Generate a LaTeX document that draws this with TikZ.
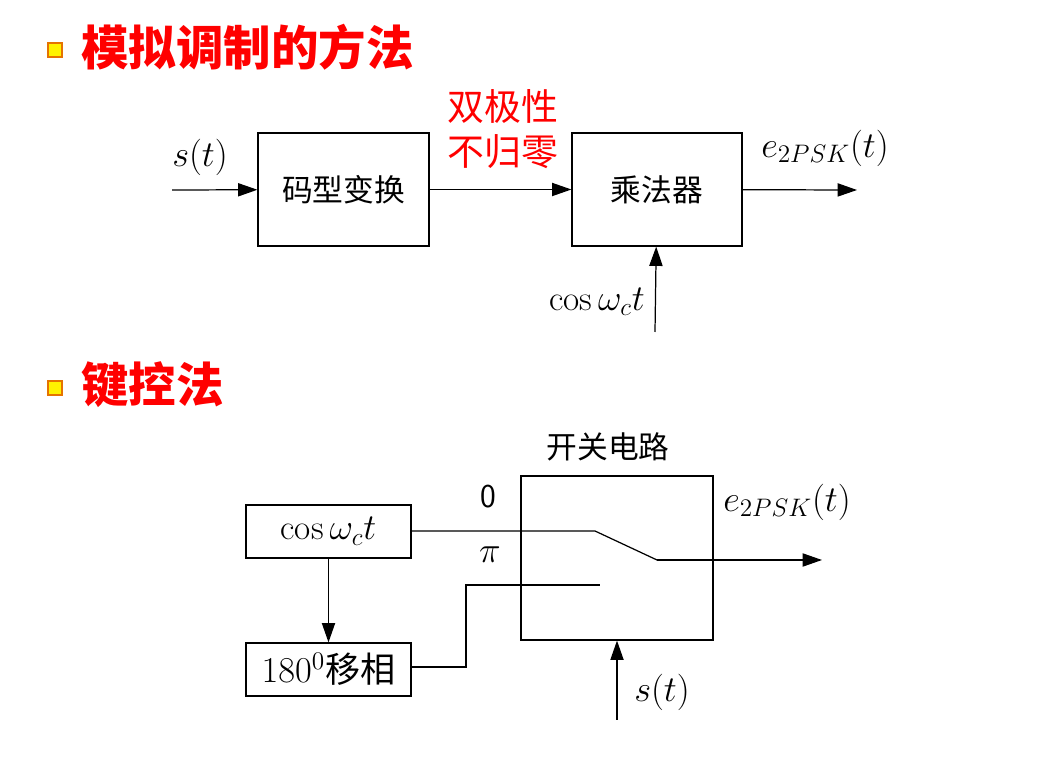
\documentclass[tikz,border=0pt]{standalone}
\usepackage{fontspec}
\newfontfamily\cjk{Noto Sans CJK SC}
\usetikzlibrary{positioning,arrows.meta}
\begin{document}
\begin{tikzpicture}[x=0.02cm,y=-0.02cm,thick]
	% `blk' is used for the boxes, `sig' for the arrows.
	\tikzstyle{blk} = [draw,line width=0.7pt,inner sep=0pt]
	\tikzstyle{sig} = [line width=0.7pt,-{Triangle[length=11pt,width=7.5pt]}]
	\tikzstyle{txt} = [font=\cjk\fontsize{17.5}{20}\selectfont]
	\tikzstyle{mth} = [font=\fontsize{20}{24}\selectfont]
	\tikzstyle{title} = [font=\cjk\bfseries\fontsize{27}{30}\selectfont,text=red,anchor=west]
	\tikzstyle{bullet} = [draw=orange!90!black,fill=yellow,line width=1.2pt,minimum size=8pt,inner sep=0pt]
	\useasboundingbox (0,0) rectangle (1038,759);
	%
	% First part.
	\node[bullet] (b1) at (55,50) {};
	\node[title] (t1) at (75,47) {模拟调制的方法};
	\node[blk,txt,minimum width=171*0.02cm,minimum height=113*0.02cm] (code) at (343.5,189.5) {码型变换};
	\node[blk,txt,minimum width=170*0.02cm,minimum height=113*0.02cm] (mult) at (657,189.5) {乘法器};
	\coordinate (in1) at (172,190);
	\coordinate (out1) at (857,190);
	\coordinate (car1) at (655,332);
	\draw[sig] (in1) -- (code);
	\draw[sig] (code) -- (mult);
	\draw[sig] (mult) -- (out1);
	\draw[sig] (car1) -- (mult);
	\node[mth] (s1) at (200,157) {$s(t)$};
	\node[txt,text=red,align=center,font=\cjk\fontsize{21}{26}\selectfont] (nrz) at (503,129) {双极性\\不归零};
	\node[mth] (e1) at (825,148) {$e_{2PSK}(t)$};
	\node[mth] (c1) at (597,302) {$\cos\omega_c t$};
	%
	% Second part.
	\node[bullet] (b2) at (55,388) {};
	\node[title] (t2) at (75,385) {键控法};
	\node[blk,minimum width=192*0.02cm,minimum height=164*0.02cm] (sw) at (617,558) {};
	\node[txt] at (608,447) {开关电路};
	\node[blk,mth,minimum width=165*0.02cm,minimum height=53*0.02cm] (osc) at (328.5,531.5) {$\cos\omega_c t$};
	\node[blk,mth,minimum width=165*0.02cm,minimum height=53*0.02cm] (shift) at (328.5,669.5) {$180^0$\cjk 移相};
	\draw[sig] (osc) -- (shift);
	\coordinate (pin) at (595,531);
	\coordinate (piv) at (657,560);
	\coordinate (out2) at (822,560);
	\coordinate (pipin) at (600,585);
	\coordinate (ctl) at (617,720);
	\draw[line width=0.7pt] (osc.east |- pin) -- (pin) -- (piv);
	\draw[sig] (piv) -- (out2);
	\draw[line width=0.7pt] (shift.east |- 0,667) -| (466,585) -- (pipin);
	\draw[sig] (ctl) -- (ctl |- sw.south);
	\node[font=\sffamily\fontsize{19}{22}\selectfont] at (488,497) {0};
	\node[mth] at (490,555) {$\pi$};
	\node[mth] at (787,502) {$e_{2PSK}(t)$};
	\node[mth] at (662,692) {$s(t)$};
\end{tikzpicture}
\end{document}
